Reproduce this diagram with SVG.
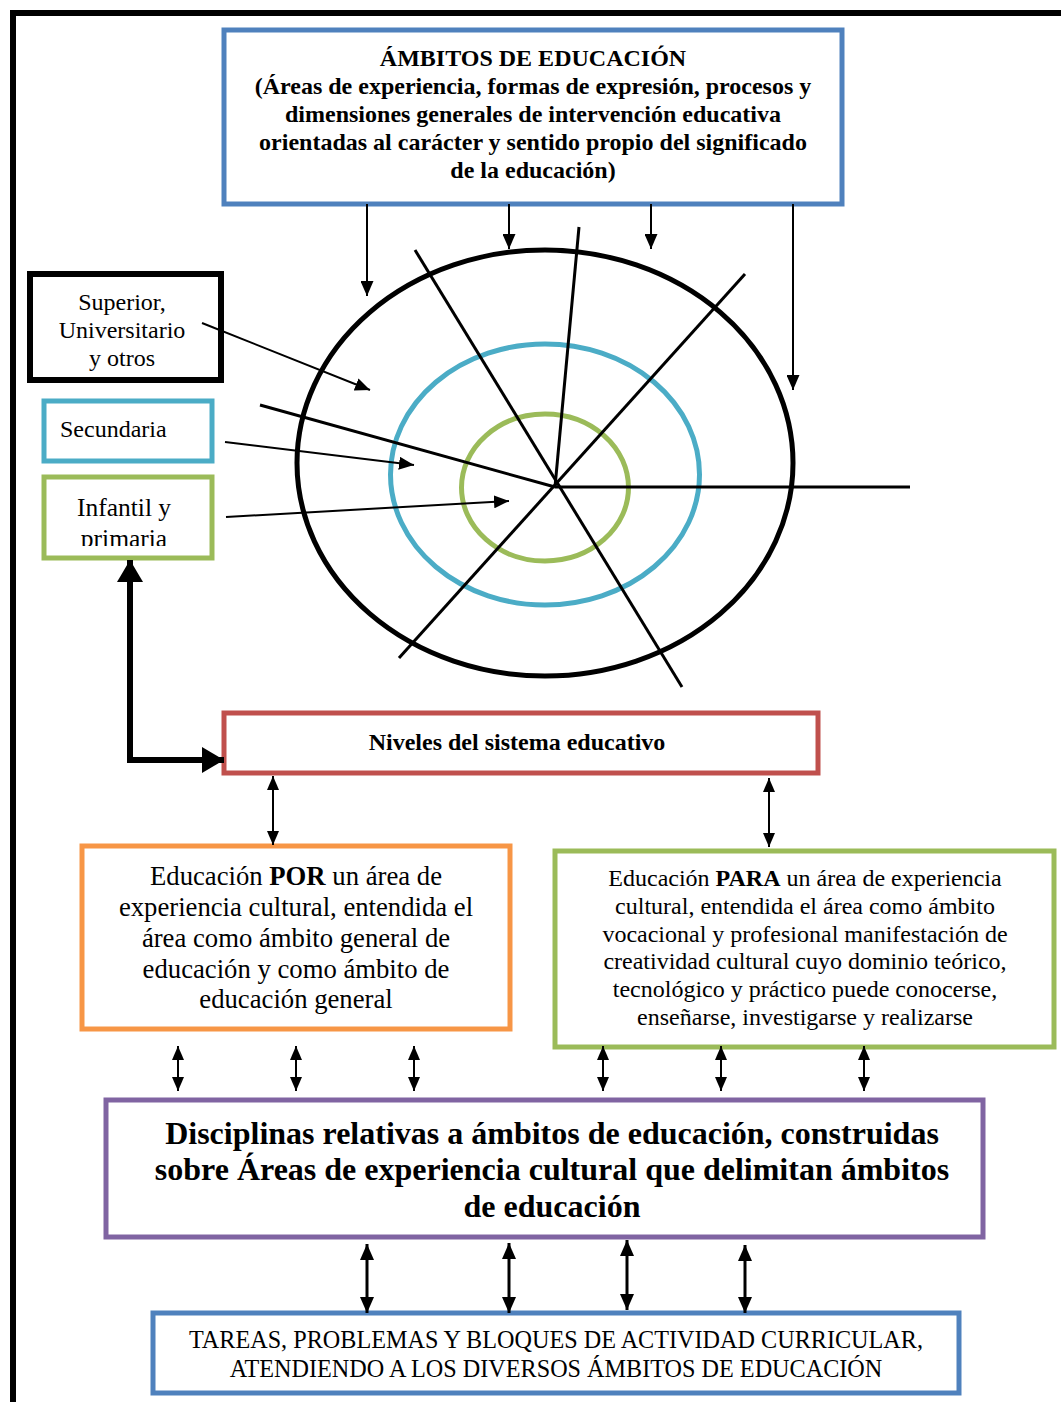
<svg xmlns="http://www.w3.org/2000/svg" width="1061" height="1402" viewBox="0 0 1061 1402">
<style>
.box{fill:#fff;stroke-width:5}
.t{font-family:"Liberation Serif","Times New Roman",serif;fill:#000;text-anchor:middle}
.b{font-weight:bold}
.ln{stroke:#000;fill:none}
</style>
<defs>
<marker id="ah" markerUnits="userSpaceOnUse" markerWidth="15" markerHeight="13" viewBox="0 0 15 13" refX="15" refY="6.5" orient="auto"><path d="M0,0L15,6.5L0,13z" fill="#000"/></marker>
<marker id="dm" markerUnits="userSpaceOnUse" markerWidth="14" markerHeight="12" viewBox="0 0 14 12" refX="14" refY="6" orient="auto-start-reverse"><path d="M0,0L14,6L0,12z" fill="#000"/></marker>
<marker id="db" markerUnits="userSpaceOnUse" markerWidth="16" markerHeight="14" viewBox="0 0 16 14" refX="16" refY="7" orient="auto-start-reverse"><path d="M0,0L16,7L0,14z" fill="#000"/></marker>
<marker id="big" markerUnits="userSpaceOnUse" markerWidth="22" markerHeight="26" viewBox="0 0 22 26" refX="22" refY="13" orient="auto-start-reverse"><path d="M0,0L22,13L0,26z" fill="#000"/></marker>
<clipPath id="clipInf"><rect x="46" y="479" width="164" height="67"/></clipPath>
</defs>
<rect x="13" y="13" width="1100" height="1450" fill="none" stroke="#000" stroke-width="6"/>

<g id="circle">
<ellipse cx="545" cy="463" rx="248" ry="213" fill="none" stroke="#000" stroke-width="5"/>
<ellipse cx="545" cy="474.5" rx="154.5" ry="130.5" fill="none" stroke="#4BACC6" stroke-width="5"/>
<ellipse cx="545" cy="487.5" rx="83.5" ry="73.5" fill="none" stroke="#9BBB59" stroke-width="5"/>
<g class="ln" stroke-width="3">
<line x1="555" y1="487" x2="910" y2="487"/>
<line x1="415" y1="250" x2="682" y2="687"/>
<line x1="579" y1="227" x2="555" y2="487"/>
<line x1="745" y1="274" x2="399" y2="658"/>
<line x1="260" y1="405" x2="555" y2="487"/>
</g>
</g>

<g id="ambitos">
<rect class="box" x="224" y="30" width="618" height="174" stroke="#4F81BD"/>
<text class="t b" font-size="24"><tspan x="533" y="66">ÁMBITOS DE EDUCACIÓN</tspan><tspan x="533" y="94">(Áreas de experiencia, formas de expresión, procesos y</tspan><tspan x="533" y="122">dimensiones generales de intervención educativa</tspan><tspan x="533" y="150">orientadas al carácter y sentido propio del significado</tspan><tspan x="533" y="178">de la educación)</tspan></text>
</g>

<g id="superior">
<rect x="30" y="274" width="191" height="106" fill="#fff" stroke="#000" stroke-width="6"/>
<text class="t" font-size="24"><tspan x="122" y="310">Superior,</tspan><tspan x="122" y="338">Universitario</tspan><tspan x="122" y="366">y otros</tspan></text>
</g>

<g id="secundaria">
<rect class="box" x="44" y="401" width="168" height="60" stroke="#4BACC6"/>
<text class="t" font-size="24" x="60" y="437" style="text-anchor:start">Secundaria</text>
</g>

<g id="infantil">
<rect class="box" x="44" y="477" width="168" height="81" stroke="#9BBB59"/>
<g clip-path="url(#clipInf)">
<text class="t" font-size="25.5"><tspan x="124" y="516">Infantil y</tspan><tspan x="124" y="547">primaria</tspan></text>
</g>
</g>

<g id="niveles">
<rect class="box" x="224" y="713" width="594" height="60" stroke="#C0504D"/>
<text class="t b" font-size="24" x="517" y="750">Niveles del sistema educativo</text>
</g>

<g id="por">
<rect class="box" x="82" y="846" width="428" height="183" stroke="#F79646"/>
<text class="t" font-size="26.7"><tspan x="296" y="885">Educación <tspan font-weight="bold">POR</tspan> un área de</tspan><tspan x="296" y="916">experiencia cultural, entendida el</tspan><tspan x="296" y="947">área como ámbito general de</tspan><tspan x="296" y="978">educación y como ámbito de</tspan><tspan x="296" y="1008">educación general</tspan></text>
</g>

<g id="para">
<rect class="box" x="555" y="851" width="499" height="196" stroke="#9BBB59"/>
<text class="t" font-size="24"><tspan x="805" y="886">Educación <tspan font-weight="bold">PARA</tspan> un área de experiencia</tspan><tspan x="805" y="914">cultural, entendida el área como ámbito</tspan><tspan x="805" y="942">vocacional y profesional manifestación de</tspan><tspan x="805" y="969">creatividad cultural cuyo dominio teórico,</tspan><tspan x="805" y="997">tecnológico y práctico puede conocerse,</tspan><tspan x="805" y="1025">enseñarse, investigarse y realizarse</tspan></text>
</g>

<g id="disciplinas">
<rect class="box" x="106" y="1100" width="877" height="137" stroke="#8064A2"/>
<text class="t b" font-size="32"><tspan x="552" y="1144">Disciplinas relativas a ámbitos de educación, construidas</tspan><tspan x="552" y="1180">sobre Áreas de experiencia cultural que delimitan ámbitos</tspan><tspan x="552" y="1217">de educación</tspan></text>
</g>

<g id="tareas">
<rect class="box" x="153" y="1313" width="806" height="80" stroke="#4F81BD"/>
<text class="t" font-size="24.2"><tspan x="556" y="1348">TAREAS, PROBLEMAS Y BLOQUES DE ACTIVIDAD CURRICULAR,</tspan><tspan x="556" y="1377">ATENDIENDO A LOS DIVERSOS ÁMBITOS DE EDUCACIÓN</tspan></text>
</g>

<g id="connectors" class="ln">
<g stroke-width="2" marker-end="url(#ah)">
<line x1="367" y1="204" x2="367" y2="296"/>
<line x1="509" y1="204" x2="509" y2="249"/>
<line x1="651" y1="204" x2="651" y2="249"/>
<line x1="793" y1="204" x2="793" y2="390"/>
<line x1="202" y1="323" x2="370" y2="390"/>
<line x1="225" y1="442" x2="414" y2="465"/>
<line x1="226" y1="517" x2="509" y2="501"/>
</g>
<path d="M130,560L130,760L224,760" stroke-width="6" stroke-linejoin="miter" marker-start="url(#big)" marker-end="url(#big)"/>
<g stroke-width="2" marker-start="url(#dm)" marker-end="url(#dm)">
<line x1="273" y1="776" x2="273" y2="845"/>
<line x1="769" y1="778" x2="769" y2="847"/>
<line x1="178" y1="1046" x2="178" y2="1091"/>
<line x1="296" y1="1046" x2="296" y2="1091"/>
<line x1="414" y1="1046" x2="414" y2="1091"/>
<line x1="603" y1="1046" x2="603" y2="1091"/>
<line x1="721" y1="1046" x2="721" y2="1091"/>
<line x1="864" y1="1046" x2="864" y2="1091"/>
</g>
<g stroke-width="3" marker-start="url(#db)" marker-end="url(#db)">
<line x1="367" y1="1244" x2="367" y2="1313"/>
<line x1="509" y1="1243" x2="509" y2="1313"/>
<line x1="627" y1="1240" x2="627" y2="1310"/>
<line x1="745" y1="1245" x2="745" y2="1313"/>
</g>
</g>
</svg>
